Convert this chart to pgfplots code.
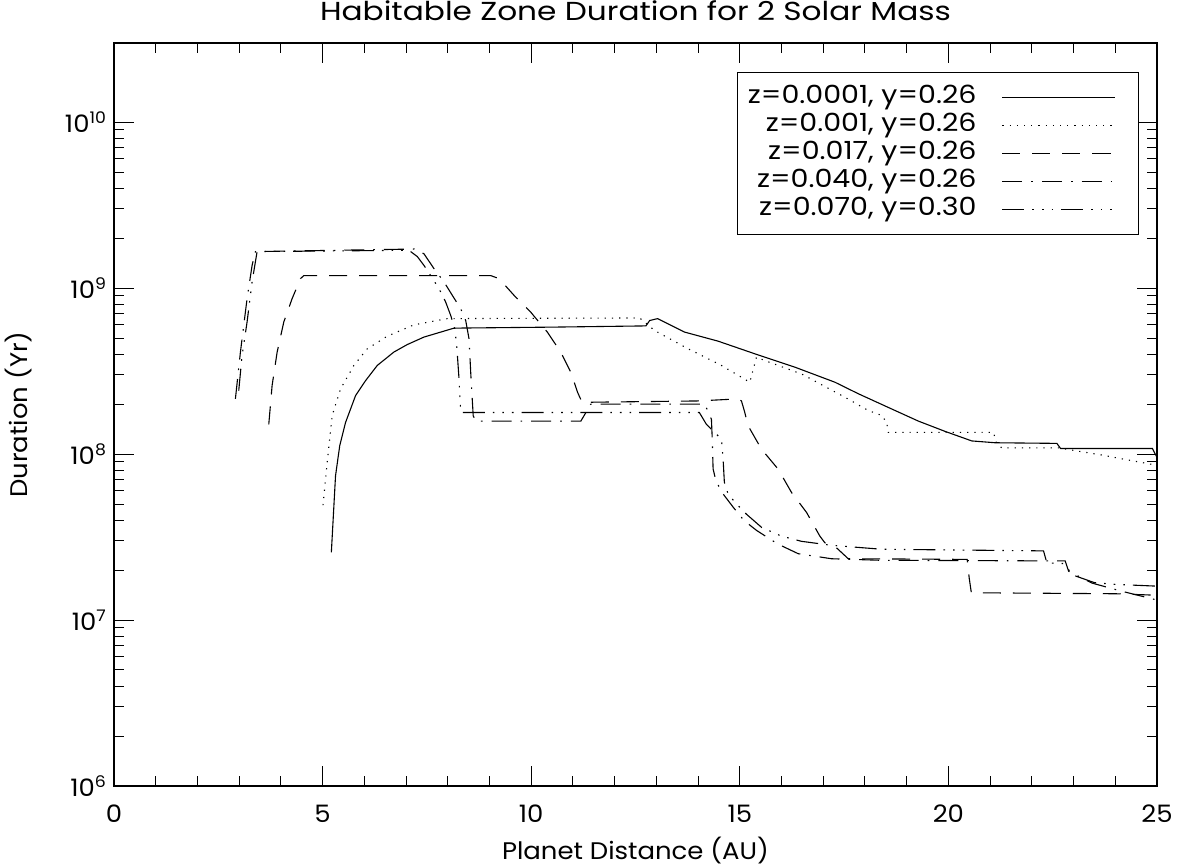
\documentclass[border=0pt]{standalone}
\usepackage{fontspec}
\setmainfont{Poppins}[FakeStretch=1.08]
\newfontfamily\titlefont{Poppins}[FakeStretch=1.2]
\newfontfamily\legfont{Poppins}[FakeStretch=1.14]
\usepackage{pgfplots}
\pgfplotsset{compat=1.18}
\begin{document}
\begin{tikzpicture}
\begin{axis}[
  scale only axis, width=521.5pt, height=371.5pt,
  font=\fontsize{12}{14}\selectfont,
  xmin=0, xmax=25, ymode=log, ymin=1e6, ymax=3e10,
  xtick={0,5,10,15,20,25}, minor x tick num=4,
  ytick={1e6,1e7,1e8,1e9,1e10},
  yticklabels={10\textsuperscript{6},10\textsuperscript{7},10\textsuperscript{8},10\textsuperscript{9},10\textsuperscript{10}},
  /pgf/number format/assume math mode=true,
  major tick length=10pt, minor tick length=5pt,
  tick style={black, line width=0.5pt},
  axis line style={line width=0.6pt},
  xticklabel style={anchor=base, yshift=-18.5pt},
  xlabel={Planet Distance (AU)},
  xlabel style={at={(axis description cs:0.5,-0.0996)}, anchor=base, inner sep=0pt},
  ylabel={Duration (Yr)},
  ylabel style={at={(axis description cs:-0.0825,0.5)}, anchor=base, inner sep=0pt},
  legend cell align=right,
  legend plot pos=right,
  legend image code/.code={\draw[#1] (11pt,0pt) -- (67pt,0pt); \path[draw=none,fill=none] (0pt,0pt) -- (76pt,0pt);},
  legend style={at={(axis description cs:1,1)}, anchor=north east, xshift=-9pt, yshift=-14.5pt,
    draw=black, line width=0.5pt, fill=white, row sep=0pt, inner xsep=3pt, inner ysep=5.5pt,
    font=\legfont\fontsize{12.5}{14}\selectfont,
    nodes={text height=9pt, text depth=2.5pt, inner ysep=1.25pt}},
  every axis plot/.append style={line width=0.55pt, black},
]
% z=0.0001 solid
\addplot[solid] coordinates {
(5.21,2.56e7)(5.31,7.40e7)(5.41,1.12e8)(5.55,1.55e8)(5.79,2.25e8)(6.03,2.77e8)
(6.31,3.42e8)(6.71,4.12e8)(7.03,4.57e8)(7.43,5.07e8)(8.15,5.74e8)(10.5,5.82e8)
(12.75,5.92e8)(12.84,6.38e8)(13.03,6.55e8)(13.68,5.43e8)(14.48,4.79e8)(15.36,4.02e8)
(16.32,3.34e8)(17.28,2.71e8)(17.84,2.31e8)(18.56,1.91e8)(19.28,1.58e8)(19.92,1.37e8)
(20.56,1.20e8)(21.12,1.17e8)(22.6,1.16e8)(22.69,1.08e8)(24.89,1.08e8)(25.0,9.55e7)
};
\addlegendentry{z=0.0001, y=0.26}
% z=0.001 dotted
\addplot[dash pattern=on 0.6pt off 3pt] coordinates {
(5.01,4.92e7)(5.11,8.91e7)(5.23,1.71e8)(5.43,2.47e8)(5.75,3.42e8)(6.07,4.31e8)
(6.55,5.13e8)(7.19,6.01e8)(7.99,6.55e8)(12.6,6.61e8)(12.96,5.55e8)(13.76,4.31e8)
(14.56,3.42e8)(15.24,2.71e8)(15.4,3.84e8)(15.6,3.66e8)(16.48,3.04e8)(17.52,2.20e8)
(18.08,1.83e8)(18.4,1.71e8)(18.52,1.55e8)(18.56,1.35e8)(21.08,1.35e8)(21.16,1.15e8)
(21.28,1.09e8)(22.64,1.09e8)(23.68,9.86e7)(24.96,8.59e7)
};
\addlegendentry{z=0.001, y=0.26}
% z=0.017 dashed
\addplot[dash pattern=on 9pt off 6pt] coordinates {
(3.71,1.51e8)(3.79,2.59e8)(3.91,4.11e8)(4.07,6.25e8)(4.27,8.65e8)(4.47,1.14e9)
(4.55,1.19e9)(9.03,1.19e9)(9.23,1.14e9)(9.59,9.04e8)(9.99,7.16e8)(10.39,5.42e8)
(10.71,4.11e8)(10.95,3.11e8)(11.11,2.36e8)(11.22,2.05e8)(14.0,2.09e8)(14.95,2.15e8)
(15.04,2.09e8)(15.12,1.78e8)(15.2,1.48e8)(15.52,1.07e8)(15.92,8.11e7)(16.24,5.87e7)
(16.6,4.45e7)(16.92,3.20e7)(17.04,2.92e7)(17.3,2.75e7)(17.6,2.34e7)(20.45,2.32e7)
(20.5,1.78e7)(20.55,1.46e7)(24.0,1.44e7)(25.0,1.41e7)
};
\addlegendentry{z=0.017, y=0.26}
% z=0.040 dash-dot
\addplot[dash pattern=on 10pt off 4.5pt on 0.8pt off 4.5pt] coordinates {
(2.91,2.15e8)(3.03,4.11e8)(3.11,5.97e8)(3.19,8.65e8)(3.31,1.37e9)(3.39,1.66e9)
(7.2,1.72e9)(7.43,1.61e9)(7.67,1.31e9)(7.91,1.09e9)(8.11,9.04e8)(8.31,7.52e8)
(8.43,6.38e8)(8.51,4.95e8)(8.55,3.11e8)(8.61,1.70e8)(8.67,1.58e8)(11.19,1.58e8)
(11.43,2.00e8)(14.16,2.00e8)(14.32,1.62e8)(14.34,1.23e8)(14.36,8.13e7)(14.43,6.87e7)
(14.6,5.75e7)(14.84,4.79e7)(15.1,3.98e7)(15.4,3.47e7)(15.9,2.88e7)(16.4,2.51e7)
(17.2,2.34e7)(18.4,2.29e7)(22.8,2.27e7)(22.88,1.97e7)(23.44,1.67e7)(24.16,1.49e7)
(25.0,1.32e7)
};
\addlegendentry{z=0.040, y=0.26}
% z=0.070 dash-3dot
\addplot[dash pattern=on 11pt off 4pt on 0.8pt off 4pt on 0.8pt off 4pt on 0.8pt off 4pt] coordinates {
(2.99,2.41e8)(3.07,3.93e8)(3.19,6.25e8)(3.31,1.09e9)(3.43,1.66e9)(7.0,1.69e9)
(7.11,1.66e9)(7.27,1.55e9)(7.43,1.37e9)(7.59,1.19e9)(7.79,9.93e8)(7.95,8.24e8)
(8.07,6.85e8)(8.17,5.69e8)(8.22,4.31e8)(8.27,2.84e8)(8.31,1.78e8)(14.03,1.78e8)
(14.2,1.51e8)(14.56,1.23e8)(14.6,9.33e7)(14.63,6.76e7)(14.72,5.73e7)(14.92,5.01e7)
(15.16,4.34e7)(15.52,3.62e7)(16.0,3.20e7)(16.48,2.98e7)(17.2,2.82e7)(18.4,2.67e7)
(22.28,2.61e7)(22.36,2.21e7)(22.75,2.19e7)(23.0,1.86e7)(23.5,1.68e7)(24.0,1.64e7)
(25.0,1.60e7)
};
\addlegendentry{z=0.070, y=0.30}
\end{axis}
\node[anchor=base, inner sep=0pt, font=\titlefont\fontsize{13}{15}\selectfont]
  at ([yshift=11pt]current axis.north) {Habitable Zone Duration for 2 Solar Mass};
\pgfresetboundingbox
\path ([xshift=-57pt,yshift=-40.5pt]current axis.south west) rectangle ([xshift=14pt,yshift=21.5pt]current axis.north east);
\end{tikzpicture}
\end{document}
